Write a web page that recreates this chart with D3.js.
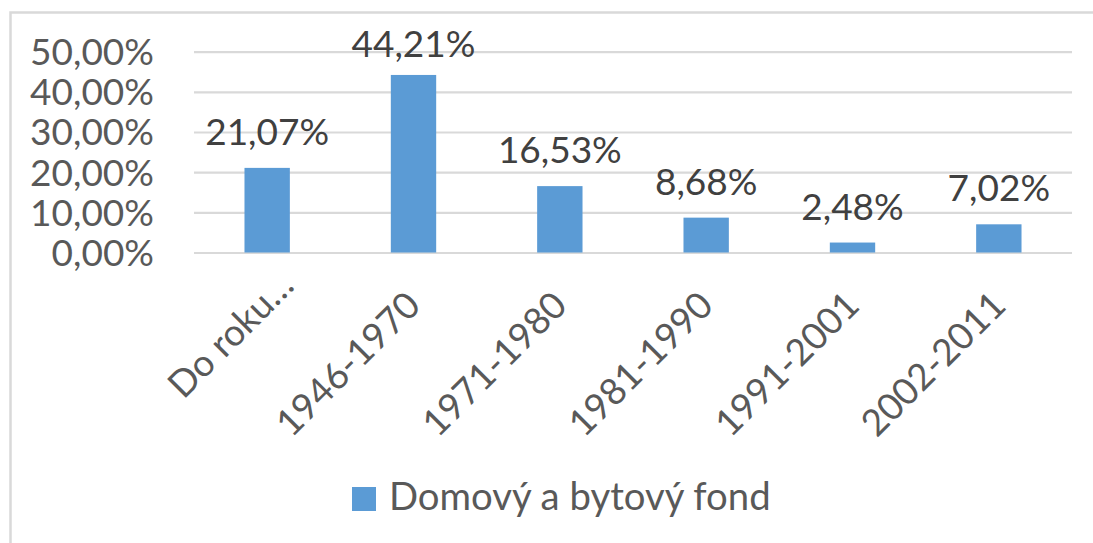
<!DOCTYPE html>
<html>
<head>
<meta charset="utf-8">
<script src="https://cdn.jsdelivr.net/npm/d3@7/dist/d3.min.js"></script>
<style>
  html, body { margin: 0; padding: 0; background: #fff; }
  svg { display: block; }
  text { font-family: Lato, "Open Sans", sans-serif; }
</style>
</head>
<body>
<svg id="chart" width="1093" height="543"></svg>
<script>
const categories = ["Do roku…", "1946-1970", "1971-1980", "1981-1990", "1991-2001", "2002-2011"];
const values = [0.2107, 0.4421, 0.1653, 0.0868, 0.0248, 0.0702];
const yTicks = [0, 0.1, 0.2, 0.3, 0.4, 0.5];
const seriesName = "Domový a bytový fond";

const W = 1093, H = 543;
const fontSize = 37;
const svg = d3.select("#chart");
const locale = d3.formatLocale({decimal: ",", thousands: " ", grouping: [3], currency: ["", "€"]});
const fmt = locale.format(".2%");

// chart border
svg.append("rect")
  .attr("x", 10.5).attr("y", 12.5)
  .attr("width", W + 50).attr("height", H + 50)
  .attr("fill", "none").attr("stroke", "#d9d9d9").attr("stroke-width", 2.5);

const x = d3.scaleBand().domain(categories).range([194, 1072])
  .paddingInner(0.69).paddingOuter(0.345);
const y = d3.scaleLinear().domain([0, 0.5]).range([252.5, 51.7]);

// gridlines + y tick labels
const yAxis = d3.axisLeft(y).tickValues(yTicks).tickSize(-(1072 - 194)).tickFormat(fmt).tickPadding(40);
const gy = svg.append("g").attr("transform", "translate(194,0)").call(yAxis);
gy.select(".domain").remove();
gy.selectAll(".tick line").attr("stroke", "#d9d9d9").attr("stroke-width", 2.2);
gy.selectAll(".tick text")
  .attr("fill", "#595959").attr("font-size", fontSize)
  .attr("font-family", "Lato, 'Open Sans', sans-serif")
  .attr("dy", "0.35em");

// bars
svg.append("g").selectAll("rect").data(values).join("rect")
  .attr("x", (d, i) => x(categories[i]))
  .attr("width", x.bandwidth())
  .attr("y", d => y(d))
  .attr("height", d => y(0) - y(d))
  .attr("fill", "#5b9bd5");

// data labels
svg.append("g").selectAll("text").data(values).join("text")
  .attr("x", (d, i) => x(categories[i]) + x.bandwidth() / 2)
  .attr("y", d => Math.max(y(d) - 23, 57))
  .attr("text-anchor", "middle")
  .attr("fill", "#404040").attr("font-size", fontSize)
  .text(d => fmt(d));

// x labels
const xAxis = d3.axisBottom(x).tickSize(0).tickPadding(0);
const gx = svg.append("g").attr("transform", "translate(0,252.5)").call(xAxis);
gx.select(".domain").remove();
gx.selectAll(".tick text")
  .attr("fill", "#595959").attr("font-size", fontSize)
  .attr("font-family", "Lato, 'Open Sans', sans-serif")
  .attr("text-anchor", "end")
  .attr("y", 0).attr("dy", 0)
  .attr("dx", d => d.endsWith("…") ? 28 : 0)
  .attr("transform", "translate(9,55) rotate(-45)");

// legend
const lg = svg.append("g");
lg.append("rect").attr("x", 352).attr("y", 487).attr("width", 24).attr("height", 24).attr("fill", "#5b9bd5");
lg.append("text").attr("x", 389).attr("y", 510)
  .attr("fill", "#595959").attr("font-size", 38.3)
  .text(seriesName);
</script>
</body>
</html>
